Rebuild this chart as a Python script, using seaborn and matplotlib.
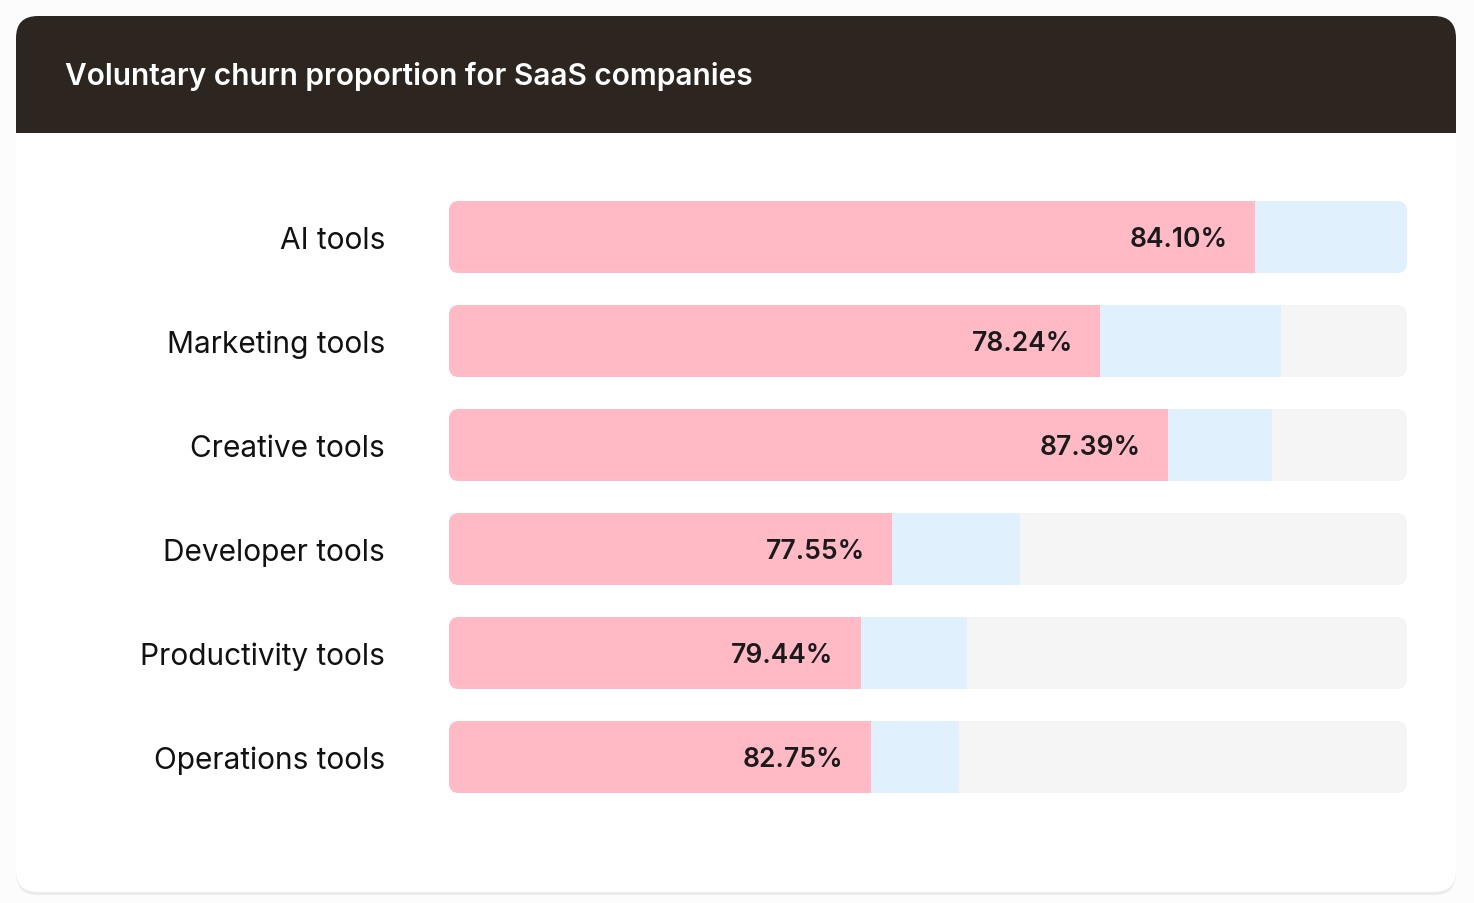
import matplotlib
matplotlib.use("Agg")
import matplotlib.pyplot as plt
from matplotlib.patches import FancyBboxPatch, Rectangle
import seaborn as sns
import pandas as pd

# ---- data ----
categories = ["AI tools", "Marketing tools", "Creative tools",
              "Developer tools", "Productivity tools", "Operations tools"]
voluntary_share = [84.10, 78.24, 87.39, 77.55, 79.44, 82.75]   # % of churn that is voluntary
total_churn_index = [100.0, 86.85, 85.9, 59.6, 54.1, 53.2]      # total churn, relative to max (=100)
scale_max = 100.0

voluntary_part = [t * s / 100.0 for t, s in zip(total_churn_index, voluntary_share)]
df = pd.DataFrame({
    "category": categories,
    "track": [scale_max] * len(categories),
    "total": total_churn_index,
    "voluntary": voluntary_part,
    "share": voluntary_share,
})

W, H = 1474, 904
sns.set_theme(style="white")
plt.rcParams["font.family"] = ["Inter", "DejaVu Sans"]

fig = plt.figure(figsize=(W / 100, H / 100), dpi=100)
fig.patch.set_facecolor("#fcfcfc")

def fx(px):
    return px / W

def fy(py):
    return 1 - py / H

# card shadow and card
card_l, card_r, card_t, card_b = 16, 1456, 17, 893
r = 22
shadow = FancyBboxPatch((fx(card_l), fy(card_b + 3)), fx(card_r - card_l), (card_b - card_t) / H,
                        boxstyle=f"round,pad=0,rounding_size={r / W}", transform=fig.transFigure,
                        facecolor="#ebebeb", edgecolor="none", zorder=0, mutation_aspect=W / H)
fig.patches.append(shadow)
card = FancyBboxPatch((fx(card_l), fy(card_b)), fx(card_r - card_l), (card_b - card_t) / H,
                      boxstyle=f"round,pad=0,rounding_size={r / W}", transform=fig.transFigure,
                      facecolor="white", edgecolor="none", zorder=1, mutation_aspect=W / H)
fig.patches.append(card)
header = FancyBboxPatch((fx(card_l), fy(170)), fx(card_r - card_l), (170 - card_t) / H,
                        boxstyle=f"round,pad=0,rounding_size={r / W}", transform=fig.transFigure,
                        facecolor="#2c2520", edgecolor="none", zorder=2, mutation_aspect=W / H)
fig.patches.append(header)
cover = Rectangle((fx(card_l), fy(180)), fx(card_r - card_l), (180 - 134) / H,
                  transform=fig.transFigure, facecolor="white", edgecolor="none", zorder=3)
fig.patches.append(cover)
fig.text(fx(65), fy(76), "Voluntary churn proportion for SaaS companies", color="white",
         fontsize=21.5, fontweight="semibold", ha="left", va="center", zorder=5)

# axes
ax_l, ax_r = 449, 1407
ax_t, ax_b = 186, 810
ax = fig.add_axes([fx(ax_l), fy(ax_b), fx(ax_r - ax_l), (ax_b - ax_t) / H])
ax.set_facecolor("none")
ax.set_zorder(4)

bw = 72 / 104
sns.barplot(data=df, y="category", x="track", color="#f5f5f5", width=bw, ax=ax,
            saturation=1, orient="h", order=categories)
sns.barplot(data=df, y="category", x="total", color="#e0f0fd", width=bw, ax=ax,
            saturation=1, orient="h", order=categories)
sns.barplot(data=df, y="category", x="voluntary", color="#ffbac6", width=bw, ax=ax,
            saturation=1, orient="h", order=categories)

ax.set_xlim(0, scale_max)
ax.set_ylim(len(categories) - 0.5, -0.5)

# rounded clipping
rad_x = 10 / (ax_r - ax_l) * scale_max
rad_y = 10 / 104
for p in list(ax.patches):
    p.set_edgecolor("none")
    p.set_linewidth(0)
for i in range(len(categories)):
    clip = FancyBboxPatch((0, i - bw / 2), scale_max, bw,
                          boxstyle=f"round,pad=0,rounding_size={rad_x}",
                          mutation_aspect=rad_y / rad_x,
                          transform=ax.transData, facecolor="none", edgecolor="none")
    ax.add_patch(clip)
    clip.set_visible(False)
    for p in ax.patches:
        if isinstance(p, Rectangle) and abs(p.get_y() + p.get_height() / 2 - i) < 0.01:
            p.set_clip_path(clip)

# value labels
px_per_unit = (ax_r - ax_l) / scale_max
for i, (v, s) in enumerate(zip(voluntary_part, voluntary_share)):
    ax.text(v - 27 / px_per_unit, i + 0.02, f"{s:.2f}%", ha="right", va="center",
            fontsize=19, fontweight="semibold", color="#1a1a1a")

ax.set_xlabel("")
ax.set_ylabel("")
ax.set_xticks([])
ax.tick_params(axis="y", length=0, pad=46, labelsize=21.5, labelcolor="#111111")
for sp in ax.spines.values():
    sp.set_visible(False)

fig.savefig("out.png", dpi=100, facecolor=fig.get_facecolor())
